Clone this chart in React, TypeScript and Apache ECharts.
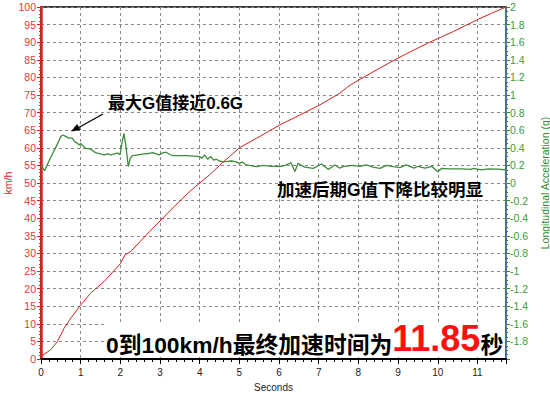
import React, { useEffect, useRef } from "react";
import * as echarts from "echarts";

// Speed (km/h) vs time (s)
const speedTime = [0, 0.24, 0.41, 0.58, 0.75, 1.0, 1.25, 1.59, 2.01, 2.06, 2.11, 2.26, 2.5, 2.77, 3.0, 3.25, 3.5, 3.74, 4.0, 4.25, 4.5, 4.75, 5.0, 5.43, 6.02, 6.52, 7.03, 7.53, 7.79, 8.0, 8.5, 9.0, 9.4, 9.8, 10.39, 10.98, 11.35, 11.72];
const speedValues = [0.7, 2.6, 4.9, 8.7, 11.6, 15.3, 18.7, 22.0, 27.2, 28.4, 29.5, 30.5, 33.4, 36.6, 39.2, 42.1, 44.9, 47.5, 50.0, 52.3, 55.0, 57.5, 60.0, 62.7, 66.5, 69.3, 72.2, 75.5, 77.8, 79.2, 82.4, 85.5, 87.8, 90.0, 93.0, 96.3, 98.2, 100];

// Longitudinal acceleration (g) vs time (s)
const gTime = [0, 0.09, 0.2, 0.3, 0.4, 0.5, 0.56, 0.62, 0.7, 0.79, 0.85, 0.92, 0.96, 1.0, 1.06, 1.13, 1.2, 1.27, 1.35, 1.42, 1.5, 1.59, 1.68, 1.76, 1.85, 1.93, 1.99, 2.04, 2.09, 2.14, 2.2, 2.25, 2.3, 2.45, 2.6, 2.7, 2.81, 2.9, 2.98, 3.05, 3.15, 3.23, 3.32, 3.5, 3.66, 3.85, 4.0, 4.05, 4.12, 4.2, 4.28, 4.35, 4.42, 4.5, 4.58, 4.7, 4.8, 4.92, 5.0, 5.08, 5.15, 5.25, 5.43, 5.6, 5.8, 5.93, 6.02, 6.15, 6.3, 6.4, 6.48, 6.56, 6.65, 6.86, 7.07, 7.24, 7.41, 7.52, 7.62, 7.83, 8.04, 8.2, 8.37, 8.54, 8.71, 8.88, 9.05, 9.2, 9.4, 9.5, 9.68, 9.85, 10.0, 10.1, 10.3, 10.6, 10.84, 10.9, 11.1, 11.27, 11.52, 11.72];
const gValues = [0.2, 0.14, 0.25, 0.34, 0.43, 0.53, 0.545, 0.53, 0.51, 0.51, 0.47, 0.45, 0.43, 0.45, 0.42, 0.39, 0.39, 0.38, 0.35, 0.34, 0.33, 0.32, 0.33, 0.32, 0.33, 0.34, 0.32, 0.45, 0.565, 0.42, 0.185, 0.28, 0.31, 0.32, 0.33, 0.335, 0.345, 0.33, 0.32, 0.34, 0.35, 0.33, 0.31, 0.31, 0.31, 0.305, 0.3, 0.28, 0.32, 0.27, 0.3, 0.26, 0.27, 0.25, 0.24, 0.245, 0.25, 0.24, 0.22, 0.24, 0.21, 0.2, 0.185, 0.2, 0.19, 0.19, 0.185, 0.2, 0.23, 0.13, 0.224, 0.2, 0.18, 0.167, 0.216, 0.155, 0.205, 0.17, 0.185, 0.2, 0.19, 0.205, 0.18, 0.167, 0.2, 0.185, 0.175, 0.205, 0.17, 0.19, 0.17, 0.19, 0.128, 0.167, 0.16, 0.16, 0.155, 0.167, 0.15, 0.16, 0.158, 0.15];

const xMax = 11.72;
const annotationTop = "最大G值接近0.6G";
const annotationMid = "加速后期G值下降比较明显";
const bottomLead = "0到100km/h最终加速时间为";
const bottomTime = "11.85";
const bottomUnit = "秒";

const LATIN_CJK = "'Liberation Sans', Arial, 'Noto Sans CJK SC', sans-serif";

export default function App() {
  const ref = useRef<HTMLDivElement>(null);
  useEffect(() => {
    if (!ref.current) return;
    const chart = echarts.init(ref.current, null, { renderer: "svg" });
    const speedData = speedTime.map((t, i) => [t, speedValues[i]]);
    const gData = gTime.map((t, i) => [t, gValues[i]]);
    chart.setOption({
      animation: false,
      backgroundColor: "#fff",
      grid: {
        left: 41,
        right: 44,
        top: 7,
        bottom: 38,
        containLabel: false,
        outerBoundsMode: "none",
        show: true,
        borderColor: "#000",
        borderWidth: 1.5,
        backgroundColor: "transparent",
      },
      xAxis: {
        type: "value",
        min: 0,
        max: xMax,
        interval: 1,
        name: "Seconds",
        nameLocation: "middle",
        nameGap: 23,
        nameTextStyle: { color: "#222", fontSize: 10, fontFamily: LATIN_CJK },
        axisLine: { show: true, lineStyle: { color: "#000", width: 2 } },
        axisTick: { show: true, length: 5, lineStyle: { color: "#000" } },
        minorTick: { show: true, splitNumber: 5, length: 3, lineStyle: { color: "#000" } },
        axisLabel: {
          color: "#222",
          fontSize: 10,
          margin: 8,
          fontFamily: LATIN_CJK,
          formatter: (v: number) => (Math.abs(v - Math.round(v)) < 1e-6 ? String(Math.round(v)) : ""),
        },
        splitLine: { show: true, lineStyle: { color: "#888", type: [3, 3], width: 1 } },
      },
      yAxis: [
        {
          type: "value",
          min: 0,
          max: 100,
          interval: 5,
          position: "left",
          name: "km/h",
          nameLocation: "middle",
          nameRotate: 90,
          nameGap: 28,
          nameMoveOverlap: false,
          nameTextStyle: { color: "#e02828", fontSize: 10.5, fontFamily: LATIN_CJK },
          axisLine: { show: true, lineStyle: { color: "#e02020", width: 2.5 } },
          axisTick: { show: true, length: 4, lineStyle: { color: "#e02020" } },
          minorTick: { show: true, splitNumber: 5, length: 2, lineStyle: { color: "#e02020" } },
          axisLabel: { color: "#e53935", fontSize: 10.5, margin: 5, fontFamily: LATIN_CJK },
          splitLine: { show: true, lineStyle: { color: "#888", type: [3, 3], width: 1 } },
        },
        {
          type: "value",
          min: -2,
          max: 2,
          interval: 0.2,
          position: "right",
          name: "Longitudinal Acceleration (g)",
          nameLocation: "middle",
          nameRotate: 90,
          nameGap: 34,
          nameTextStyle: { color: "#2e8b2e", fontSize: 10.5, fontFamily: LATIN_CJK },
          axisLine: { show: true, lineStyle: { color: "#4a7ebb", width: 1.5 } },
          axisTick: { show: true, length: 4, lineStyle: { color: "#2e8b2e" } },
          minorTick: { show: true, splitNumber: 4, length: 2, lineStyle: { color: "#2e8b2e" } },
          axisLabel: {
            color: "#3a9a3a",
            fontSize: 10.5,
            margin: 4,
            fontFamily: LATIN_CJK,
            formatter: (v: number) => (Math.abs(v + 2) < 1e-6 ? "" : String(Number(v.toFixed(1)))),
          },
          splitLine: { show: false },
        },
      ],
      series: [
        {
          type: "line",
          name: "speed",
          yAxisIndex: 0,
          data: speedData,
          showSymbol: false,
          smooth: false,
          lineStyle: { color: "#d42020", width: 1 },
          z: 3,
        },
        {
          type: "line",
          name: "g",
          yAxisIndex: 1,
          data: gData,
          showSymbol: false,
          smooth: false,
          lineStyle: { color: "#3c8c3c", width: 1.3 },
          z: 3,
        },
      ],
      graphic: [
        {
          type: "text",
          left: 108,
          top: 95,
          z: 10,
          style: {
            text: annotationTop,
            fontSize: 17,
            fontWeight: "bold",
            fontFamily: LATIN_CJK,
            fill: "#000",
          },
        },
        {
          type: "line",
          z: 10,
          shape: { x1: 103, y1: 114, x2: 76, y2: 129 },
          style: { stroke: "#000", lineWidth: 1.3 },
        },
        {
          type: "polygon",
          z: 10,
          shape: { points: [[71, 131.5], [80.6, 130.1], [77.1, 124.0]] },
          style: { fill: "#000" },
        },
        {
          type: "text",
          left: 277,
          top: 181,
          z: 10,
          style: {
            text: annotationMid,
            fontSize: 17.5,
            fontWeight: "bold",
            fontFamily: LATIN_CJK,
            fill: "#000",
          },
        },
        {
          type: "rect",
          z: 9,
          shape: { x: 104, y: 324, width: 401, height: 33 },
          style: { fill: "#fff" },
        },
        {
          type: "text",
          left: 106,
          top: 320,
          z: 10,
          style: {
            text: "{a|" + bottomLead + "}{b|" + bottomTime + "}{a|" + bottomUnit + "}",
            rich: {
              a: { fontSize: 22.8, fontWeight: "bold", fontFamily: LATIN_CJK, fill: "#000", verticalAlign: "bottom", lineHeight: 37 },
              b: { fontSize: 36, fontWeight: "bold", fontFamily: LATIN_CJK, fill: "#ff1010", verticalAlign: "bottom", lineHeight: 37 },
            },
          },
        },
      ],
    });
    return () => chart.dispose();
  }, []);
  return <div ref={ref} style={{ position: "fixed", left: 0, top: 0, width: 550, height: 397 }} />;
}
